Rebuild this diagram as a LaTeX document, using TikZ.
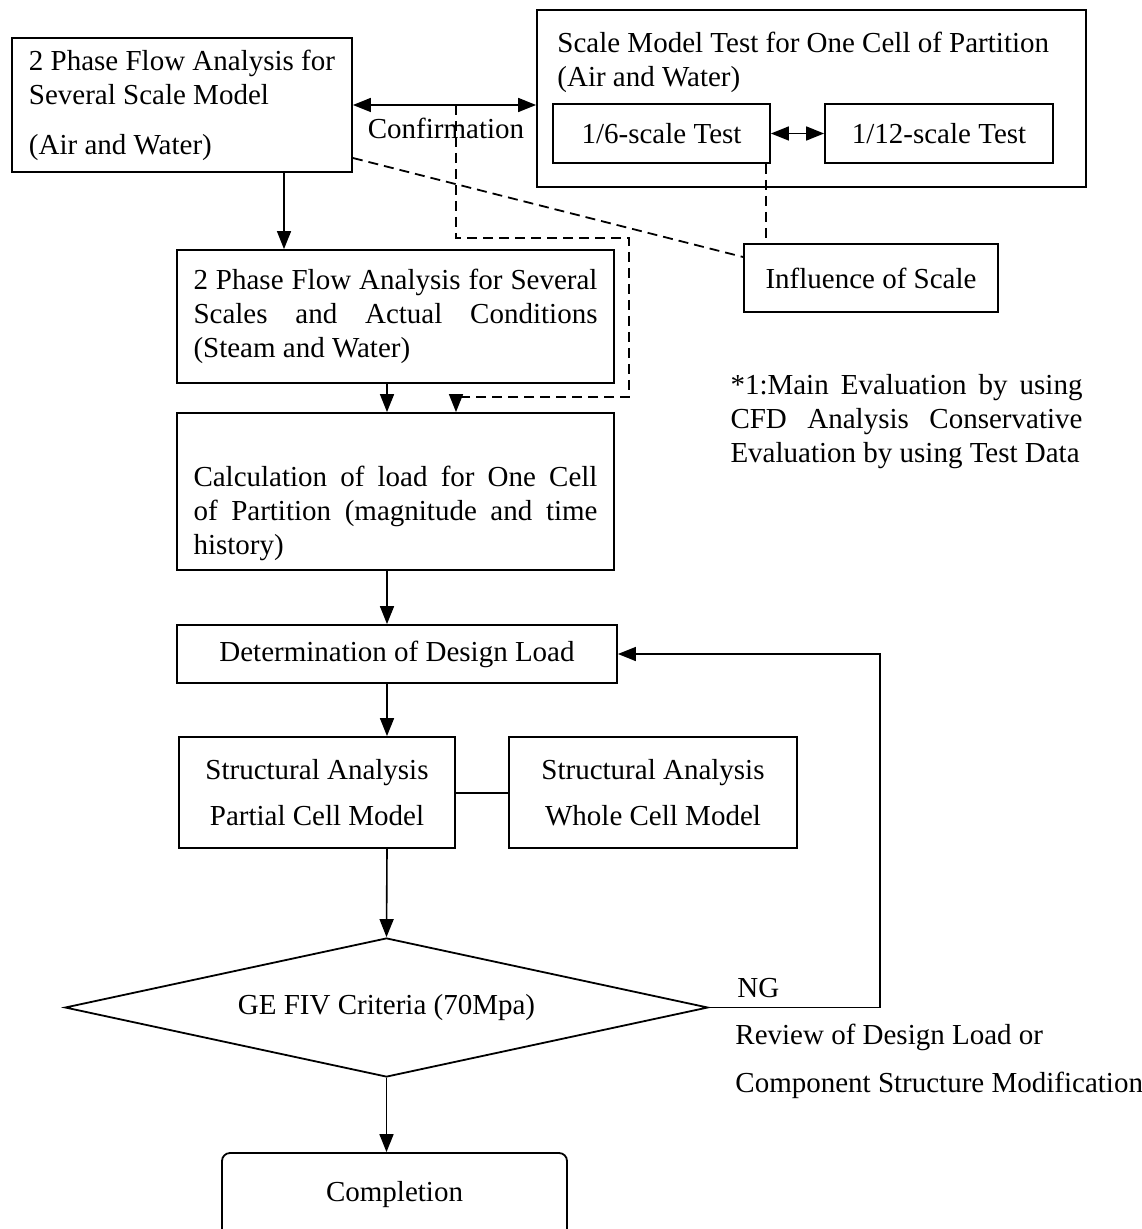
\documentclass[tikz,border=0pt]{standalone}
\usepackage{fontspec}
\setmainfont{Liberation Serif}
\usetikzlibrary{arrows.meta,shapes.geometric}

\begin{document}
\begin{tikzpicture}[
    x=0.5pt, y=-0.5pt,
    font=\fontsize{14.5}{17}\selectfont,
    block/.style={rectangle, draw, line width=0.9pt, inner sep=0pt},
    para/.style={block, text width=202pt, align=justify},
    arrow/.style={-{Triangle[length=9pt,width=7pt]}, line width=0.8pt},
    biarrow/.style={{Triangle[length=9pt,width=7pt]}-{Triangle[length=9pt,width=7pt]}, line width=0.8pt},
    dashline/.style={line width=0.9pt, dash pattern=on 5pt off 3pt}
]
    \useasboundingbox (0,0) rectangle (1141,1229);

    % Analysis and scale tests
    \node[block, minimum width=170pt, minimum height=67pt, align=left] (flowair) at (182,105)
        {2 Phase Flow Analysis for\\ Several Scale Model\\[8pt] (Air and Water)};
    \node[block, minimum width=274.5pt, minimum height=88.5pt] (scaletest) at (811.5,98.5) {};
    \node[anchor=west, inner sep=0pt, align=left] (scaletitle) at (557,62)
        {Scale Model Test for One Cell of Partition\\ (Air and Water)};
    \node[block, minimum width=108.5pt, minimum height=29.5pt] (sixth) at (661.5,133.5) {1/6-scale Test};
    \node[block, minimum width=114pt, minimum height=29.5pt] (twelfth) at (939,133.5) {1/12-scale Test};
    \node[block, minimum width=127pt, minimum height=34pt] (influence) at (871,278) {Influence of Scale};
    \node (conflabel) at (446,128) {Confirmation};

    % Main flow
    \node[para, minimum width=218.5pt, minimum height=66.5pt] (steam) at (395.5,316.5)
        {2 Phase Flow Analysis for Several\linebreak Scales and Actual Conditions\linebreak (Steam and Water)};
    \node[para, minimum width=218.5pt, minimum height=78.5pt] (calc) at (395.5,491.5)
        {\rule{0pt}{32pt}Calculation of load for One Cell\linebreak of Partition (magnitude and time\linebreak history)};
    \node[block, minimum width=220pt, minimum height=29pt] (design) at (397,654) {Determination of Design Load};
    \node[block, minimum width=138pt, minimum height=55.5pt, align=center] (partial) at (317,792.5)
        {Structural Analysis\\[6pt] Partial Cell Model};
    \node[block, minimum width=144pt, minimum height=55.5pt, align=center] (whole) at (653,792.5)
        {Structural Analysis\\[6pt] Whole Cell Model};
    \node[diamond, draw, line width=0.9pt, inner sep=0pt, aspect=4.63, minimum width=321.5pt, minimum height=69.5pt]
        (criteria) at (386.5,1007.5) {GE FIV Criteria (70Mpa)};
    \node[block, rounded corners=4pt, minimum width=172.5pt, minimum height=46pt, text depth=8pt]
        (completion) at (394.5,1199) {Completion};

    % Notes
    \node[text width=176pt, align=justify, inner sep=0pt] (evalnote) at (906.5,422)
        {*1:Main Evaluation by using\linebreak CFD Analysis Conservative\linebreak Evaluation by using Test Data};
    \node[anchor=west, inner sep=0pt] (nglabel) at (737,988) {NG};
    \node[anchor=west, inner sep=0pt, align=left] (review) at (735,1061)
        {Review of Design Load or\\[7pt] Component Structure Modification};

    \coordinate (spine) at (387,0);
    \coordinate (branch) at (284,0);
    \coordinate (loopx) at (880,0);
    \coordinate (confmid) at (456,105);
    \coordinate (dashne) at (629,238);
    \coordinate (dashse) at (629,397);

    % Arrows
    \draw[biarrow] (flowair.east) -- (flowair.east -| scaletest.west);
    \draw[biarrow] (sixth.east) -- (twelfth.west);
    \draw[arrow] (flowair.south -| branch) -- (steam.north -| branch);
    \draw[arrow] (steam.south -| spine) -- (calc.north -| spine);
    \draw[arrow] (calc.south -| spine) -- (design.north -| spine);
    \draw[arrow] (design.south -| spine) -- (partial.north -| spine);
    \draw[arrow] (partial.south -| spine) -- (criteria.north);
    \draw[arrow] (criteria.south) -- (completion.north -| criteria.south);
    \draw[line width=1pt] (partial.east) -- (whole.west);
    \draw[arrow] (criteria.east) -- (criteria.east -| loopx) |- (design.east);

    % Dashed links
    \draw[dashline] ([yshift=-26.5pt]flowair.east) -- ([yshift=10.5pt]influence.west);
    \draw[dashline] ([xshift=-2.5pt]sixth.south east) -- ([xshift=-2.5pt]sixth.south east |- influence.north);
    \draw[dashline, arrow] (confmid) |- (dashne) -- (dashse) -| (confmid |- calc.north);
\end{tikzpicture}
\end{document}
